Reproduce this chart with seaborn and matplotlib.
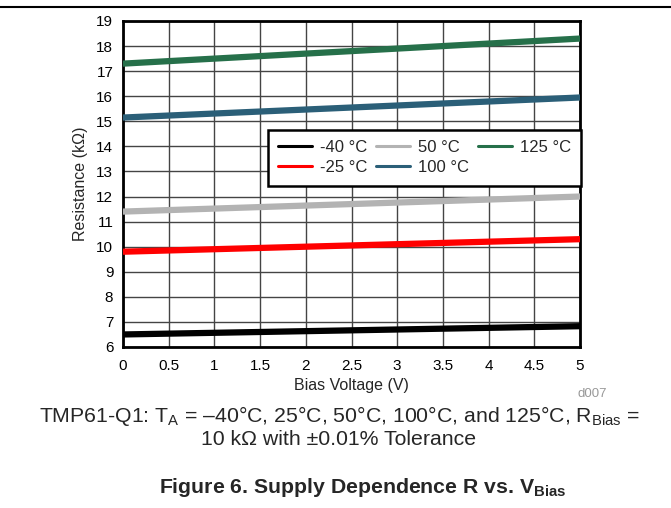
import numpy as np
import pandas as pd
import matplotlib
matplotlib.use("Agg")
import matplotlib.pyplot as plt
import seaborn as sns
from matplotlib.lines import Line2D

# Data
bias_v = [0.0, 5.0]
series_labels = ["-40 °C", "-25 °C", "50 °C", "100 °C", "125 °C"]
r_m40 = [6.5, 6.83]
r_m25 = [9.8, 10.3]
r_50 = [11.4, 12.0]
r_100 = [15.15, 15.95]
r_125 = [17.3, 18.3]
colors = ["#000000", "#ff0000", "#b3b3b3", "#2b5f78", "#26704a"]
x_ticks = [0, 0.5, 1, 1.5, 2, 2.5, 3, 3.5, 4, 4.5, 5]
x_tick_labels = ["0", "0.5", "1", "1.5", "2", "2.5", "3", "3.5", "4", "4.5", "5"]
y_ticks = list(range(6, 20))

rows = []
for lab, vals in zip(series_labels, [r_m40, r_m25, r_50, r_100, r_125]):
    for xv, yv in zip(bias_v, vals):
        rows.append({"V": xv, "R": yv, "T": lab})
df = pd.DataFrame(rows)

sns.set_theme(style="white")
plt.rcParams['font.family'] = ['Liberation Sans', 'DejaVu Sans']
plt.rcParams['mathtext.fontset'] = 'custom'
plt.rcParams['mathtext.rm'] = 'Liberation Sans'
plt.rcParams['mathtext.bf'] = 'Liberation Sans:bold'
plt.rcParams['mathtext.it'] = 'Liberation Sans:italic'

fig = plt.figure(figsize=(6.71, 5.08), dpi=100)
ax = fig.add_axes([123 / 671, 1 - 347 / 508, (580 - 123) / 671, (347 - 21) / 508])

sns.lineplot(data=df, x="V", y="R", hue="T", hue_order=series_labels,
             palette=colors, linewidth=4.5, ax=ax, legend=False, zorder=3)

ax.set_xlim(0, 5)
ax.set_ylim(6, 19)
ax.set_xticks(x_ticks)
ax.set_xticklabels(x_tick_labels)
ax.set_yticks(y_ticks)
ax.tick_params(labelsize=11, length=0, colors="black")
ax.tick_params(axis="x", pad=9)
ax.tick_params(axis="y", pad=7)
ax.grid(True, color="#444444", linewidth=1)
for s in ax.spines.values():
    s.set_linewidth(2)
    s.set_color("black")
ax.set_xlabel("Bias Voltage (V)", fontsize=11.5, labelpad=3)
ax.set_ylabel("Resistance (kΩ)", fontsize=11.5, labelpad=6)

handles = [Line2D([0], [0], color=c, lw=2.2) for c in colors]
leg = ax.legend(handles, series_labels, ncol=3, loc="upper right",
                bbox_to_anchor=(1.003, 0.666), borderaxespad=0, fontsize=12,
                frameon=True, fancybox=False, edgecolor="black", framealpha=1,
                handlelength=2.0, columnspacing=0.55, handletextpad=0.5,
                borderpad=0.62, labelspacing=0.3)
leg.get_frame().set_linewidth(1.8)

fig.add_artist(Line2D([0, 1], [1 - 7 / 508, 1 - 7 / 508], color="black", lw=1.5,
                      transform=fig.transFigure))

fig.text(578 / 671, 1 - 394 / 508, "d007", fontsize=9.5, color="#999999",
         ha="left", va="center")
fig.text(340 / 671, 1 - 422 / 508,
         "TMP61-Q1: T$_\\mathregular{A}$ = –40°C, 25°C, 50°C, 100°C, and 125°C, R$_\\mathregular{Bias}$ =",
         fontsize=15.3, ha="center", va="baseline")
fig.text(339 / 671, 1 - 445 / 508, "10 kΩ with ±0.01% Tolerance",
         fontsize=15.3, ha="center", va="baseline")
fig.text(363 / 671, 1 - 493 / 508,
         "Figure 6. Supply Dependence R vs. V$_\\mathbf{Bias}$",
         fontsize=15.3, fontweight="bold", ha="center", va="baseline")

fig.savefig("out.png", dpi=100)
